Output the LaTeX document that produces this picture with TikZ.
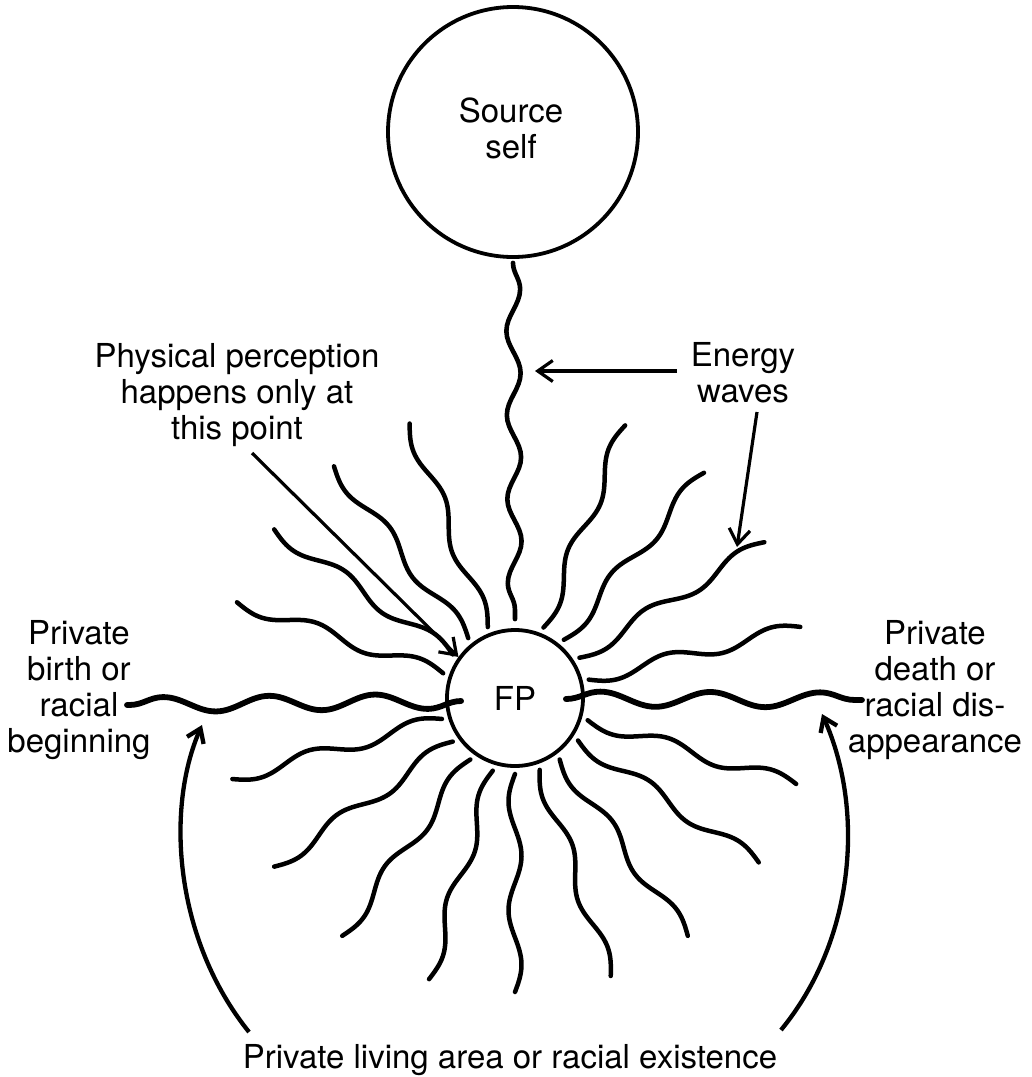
\documentclass[tikz,border=0pt]{standalone}
\usepackage{fontspec}
\setmainfont{TeX Gyre Heros}
\usetikzlibrary{arrows.meta,decorations.pathmorphing,calc}
\begin{document}
\begin{tikzpicture}[x=1pt,y=-1pt,
  lbl/.style={font=\fontsize{33}{36}\selectfont, align=center, inner sep=0pt, anchor=north},
  ring/.style={draw, circle, line width=3.8pt, inner sep=0pt},
  ray/.style={line width=4.5pt, line cap=round, line join=round},
  bigwave/.style={line width=5.8pt, line cap=round, decorate,
    decoration={snake, amplitude=7.5pt, segment length=#1}},
  upwave/.style={line width=4.6pt, line cap=round, decorate,
    decoration={snake, amplitude=7pt, segment length=#1}},
  pointer/.style={line width=3.2pt, -{Straight Barb[length=15pt,width=21pt]}},
  arcarrow/.style={line width=4.3pt, -{Straight Barb[length=13pt,width=18pt]}}]
\useasboundingbox (0,0) rectangle (1032,1077);

% circles
\node[ring, minimum size=250pt] (src) at (513,132) {};
\node[lbl] (srclbl) at (511,98) {Source\\self};
\node[ring, minimum size=136pt, font=\fontsize{33}{36}\selectfont] (fp) at (515,698) {FP};

% labels
\node[lbl] (pp) at (237,343) {Physical perception\\happens only at\\this point};
\node[lbl] (ew) at (743,342) {Energy\\waves};
\node[lbl] (birth) at (79,620) {Private\\birth or\\racial\\beginning};
\node[lbl] (death) at (935,620) {Private\\death or\\racial dis-\\appearance};
\node[lbl] (life) at (510,1044) {Private living area or racial existence};

% wave from source to FP
\draw[upwave=84] ($(src.south)+(0,4)$) -- ($(fp.north)+(0,-9)$);

% horizontal waves
\coordinate (lw) at (127,705);
\coordinate (rw) at (862,700);
\draw[bigwave=106] ($(fp.west)+(16,3)$) -- (lw);
\draw[bigwave=110] ($(fp.east)+(-19,1)$) -- (rw);

% radiating waves
\foreach \a in {111,128,145,161,68,50,32,14,-17,-34,-54,-71,-90,-107,-126,-145,-164}{
  \draw[ray] plot[domain=0:218, samples=70, smooth, variable=\u]
    ({515+(76+\u)*cos(\a)+6.5*sin(\u/109*360)*sin(\a)},
     {698-(76+\u)*sin(\a)+6.5*sin(\u/109*360)*cos(\a)});
}

% pointers
\coordinate (ppstart) at (252,453);
\draw[pointer] (ppstart) -- (fp.144);
\coordinate (e1s) at (677,371);
\coordinate (e1t) at (535,371);
\draw[pointer] (e1s) -- (e1t);
\coordinate (e2s) at (757,412);
\coordinate (e2t) at (737,547);
\draw[pointer] (e2s) -- (e2t);

% bottom arcs
\coordinate (la) at (249,1032);
\coordinate (lt) at (202,725);
\draw[arcarrow] (la) .. controls (175,940) and (165,810) .. (lt);
\coordinate (ra) at (781,1030);
\coordinate (rt) at (822,714);
\draw[arcarrow] (ra) .. controls (855,940) and (865,810) .. (rt);
\end{tikzpicture}
\end{document}
